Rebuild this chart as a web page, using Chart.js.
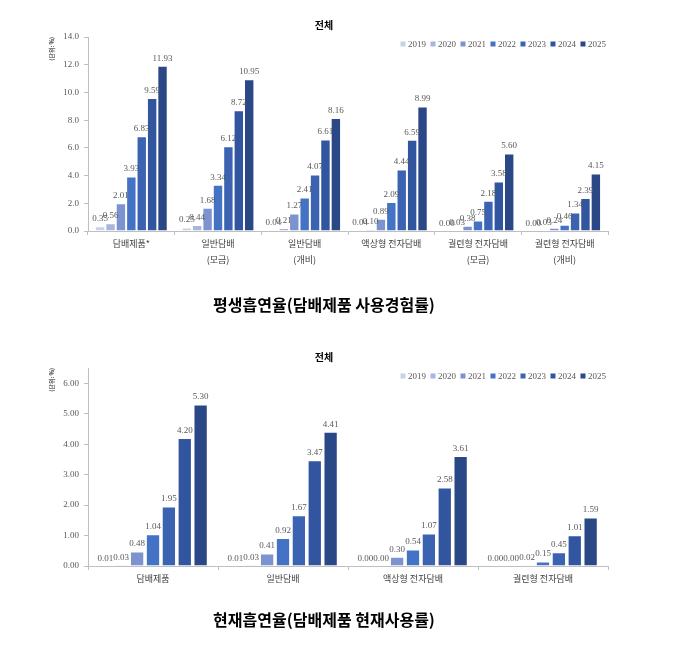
<!DOCTYPE html>
<html>
<head>
<meta charset="utf-8">
<script src="https://cdn.jsdelivr.net/npm/chart.js@4/dist/chart.umd.min.js"></script>
<style>
  html,body{margin:0;padding:0;background:#fff;}
  body{width:674px;height:651px;position:relative;overflow:hidden;}
  canvas{position:absolute;left:0;}
  #c1{top:0;}
  #c2{top:330px;}
</style>
</head>
<body>
<canvas id="c1" width="674" height="330"></canvas>
<canvas id="c2" width="674" height="321"></canvas>
<script>
// ---------- data ----------
const years = ['2019','2020','2021','2022','2023','2024','2025'];
const yearColors = ['#c8d1e8','#a8b6de','#7d93cf','#4472c4','#3b63b2','#31559e','#2a4886'];

const lifetimeCategories = ['담배제품*', ['일반담배','(모금)'], ['일반담배','(개비)'], '액상형 전자담배', ['궐련형 전자담배','(모금)'], ['궐련형 전자담배','(개비)']];
const lifetime2019 = [0.35, 0.25, 0.04, 0.04, 0.00, 0.00];
const lifetime2020 = [0.56, 0.44, 0.21, 0.10, 0.03, 0.03];
const lifetime2021 = [2.01, 1.68, 1.27, 0.89, 0.38, 0.24];
const lifetime2022 = [3.93, 3.34, 2.41, 2.09, 0.75, 0.46];
const lifetime2023 = [6.83, 6.12, 4.07, 4.44, 2.18, 1.34];
const lifetime2024 = [9.59, 8.72, 6.61, 6.59, 3.58, 2.39];
const lifetime2025 = [11.93, 10.95, 8.16, 8.99, 5.60, 4.15];

const currentCategories = ['담배제품', '일반담배', '액상형 전자담배', '궐련형 전자담배'];
const current2019 = [0.01, 0.01, 0.00, 0.00];
const current2020 = [0.03, 0.03, 0.00, 0.00];
const current2021 = [0.48, 0.41, 0.30, 0.02];
const current2022 = [1.04, 0.92, 0.54, 0.15];
const current2023 = [1.95, 1.67, 1.07, 0.45];
const current2024 = [4.20, 3.47, 2.58, 1.01];
const current2025 = [5.30, 4.41, 3.61, 1.59];

const panelTitle = '전체';
const lifetimeTitle = '평생흡연율(담배제품 사용경험률)';
const currentTitle = '현재흡연율(담배제품 현재사용률)';
const yAxisTitle = '(단위: %)';

// ---------- helpers ----------
const SERIF = '"Liberation Serif", "DejaVu Serif", serif';
const SANS = '"Noto Sans CJK KR", "Noto Sans", sans-serif';

const valueLabels = {
  id: 'valueLabels',
  afterDatasetsDraw(chart) {
    const ctx = chart.ctx;
    ctx.save();
    ctx.font = '9px ' + SERIF;
    ctx.fillStyle = '#595959';
    ctx.textAlign = 'center';
    ctx.textBaseline = 'bottom';
    chart.data.datasets.forEach((ds, i) => {
      const meta = chart.getDatasetMeta(i);
      if (meta.hidden) return;
      meta.data.forEach((el, j) => {
        ctx.fillText(Number(ds.data[j]).toFixed(2), el.x, el.y - 3);
      });
    });
    ctx.restore();
  }
};

// legend drawn in a row at the top-right of the plot area
const topLegend = {
  id: 'topLegend',
  afterDraw(chart, args, opts) {
    const ctx = chart.ctx;
    ctx.save();
    ctx.font = '9px ' + SERIF;
    ctx.textBaseline = 'middle';
    ctx.textAlign = 'left';
    const box = 5, gap = 2.5, pad = 4.5;
    const items = chart.data.datasets.map(d => ({ text: d.label, color: d.backgroundColor }));
    const widths = items.map(it => box + gap + ctx.measureText(it.text).width);
    const total = widths.reduce((a, b) => a + b, 0) + pad * (items.length - 1);
    let x = chart.chartArea.right - 2 - total;
    const y = chart.chartArea.top + opts.dy;
    items.forEach((it, i) => {
      ctx.fillStyle = it.color;
      ctx.fillRect(x, y - box / 2, box, box);
      ctx.fillStyle = '#595959';
      ctx.fillText(it.text, x + box + gap, y + 0.5);
      x += widths[i] + pad;
    });
    ctx.restore();
  }
};

function makeDatasets(series, bp) {
  return series.map((data, i) => ({
    label: years[i],
    data: data,
    backgroundColor: yearColors[i],
    borderColor: '#ffffff',
    borderWidth: 1,
    barPercentage: bp.bar,
    categoryPercentage: bp.cat
  }));
}

function buildChart(id, cfg) {
  return new Chart(document.getElementById(id), {
    type: 'bar',
    data: {
      labels: cfg.labels,
      datasets: makeDatasets(cfg.series, cfg.bp)
    },
    plugins: [valueLabels, topLegend],
    options: {
      responsive: false,
      animation: false,
      layout: { padding: { left: 40, right: 66, top: cfg.padTop, bottom: cfg.padBottom } },
      plugins: {
        title: {
          display: true, text: panelTitle, position: 'top', align: 'center',
          color: '#000', font: { family: SANS, size: 10, weight: 'bold', lineHeight: 1.2 },
          padding: { top: 0, bottom: cfg.titleGap }
        },
        subtitle: {
          display: true, text: cfg.bigTitle, position: 'bottom', align: 'center',
          color: '#000', font: { family: SANS, size: 16, weight: 'bold', lineHeight: 1.2 },
          padding: 0
        },
        legend: { display: false },
        topLegend: { dy: cfg.legendDy },
        tooltip: { enabled: false }
      },
      scales: {
        x: {
          grid: { display: true, offset: true, drawOnChartArea: false, drawTicks: true, tickLength: 4, color: '#bfbfbf' },
          border: { display: true, color: '#bfbfbf' },
          ticks: { color: '#404040', font: { family: SANS, size: 9, lineHeight: 1.83 }, padding: 0, maxRotation: 0, autoSkip: false },
          afterFit(scale) { scale.height = cfg.xHeight; }
        },
        y: {
          min: 0, max: cfg.yMax, bounds: cfg.bounds,
          grid: { display: true, drawOnChartArea: false, drawTicks: true, tickLength: 4, color: '#bfbfbf' },
          border: { display: true, color: '#bfbfbf' },
          ticks: {
            stepSize: cfg.yStep, includeBounds: false, color: '#595959', padding: 5,
            font: { family: SERIF, size: 9 },
            callback: (v) => Number(v).toFixed(cfg.yDec)
          },
          title: {
            display: true, text: yAxisTitle, align: 'end', color: '#000',
            font: { family: SANS, size: 6 }, padding: { top: 8, bottom: 0 }
          },
          afterFit(scale) { scale.width = 48; }
        }
      }
    }
  });
}

buildChart('c1', {
  labels: lifetimeCategories,
  series: [lifetime2019, lifetime2020, lifetime2021, lifetime2022, lifetime2023, lifetime2024, lifetime2025],
  bp: { bar: 1.0, cat: 0.84 },
  padTop: 19, padBottom: 15, titleGap: 6, xHeight: 64.8, legendDy: 7,
  yMax: 14, yStep: 2, yDec: 1, bounds: 'ticks',
  bigTitle: lifetimeTitle
});

buildChart('c2', {
  labels: currentCategories,
  series: [current2019, current2020, current2021, current2022, current2023, current2024, current2025],
  bp: { bar: 0.9, cat: 0.855 },
  padTop: 21, padBottom: 21, titleGap: 5, xHeight: 44.8, legendDy: 8,
  yMax: 6.5, yStep: 1, yDec: 2, bounds: 'data',
  bigTitle: currentTitle
});
</script>
</body>
</html>
